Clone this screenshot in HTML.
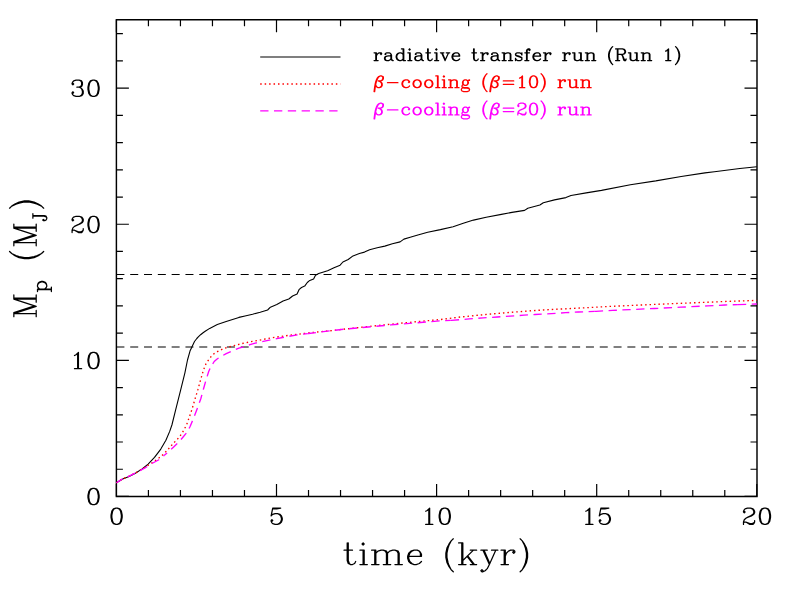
<!DOCTYPE html>
<html lang="en">
<head>
<meta charset="utf-8">
<title>Planet mass versus time</title>
<style>
html,body{margin:0;padding:0;background:#fff;}
body{width:789px;height:590px;overflow:hidden;font-family:"Liberation Serif",serif;}
svg{display:block;}
</style>
</head>
<body>
<svg width="789" height="590" viewBox="0 0 789 590" role="img" aria-label="Planet mass Mp (MJ) versus time (kyr) for radiative transfer and beta-cooling runs">
<rect width="789" height="590" fill="#fff"/>
<g fill="none" stroke="#000" stroke-width="1.35" stroke-linecap="butt" stroke-linejoin="round">
<path d="M116.4 19.7H757V496.4H116.4Z" stroke-width="1.45" stroke-linejoin="miter"/>
<path d="M116.4 496.4v-12.5M116.4 19.7v12.5M148.42 496.4v-6.5M148.42 19.7v6.5M180.44 496.4v-6.5M180.44 19.7v6.5M212.46 496.4v-6.5M212.46 19.7v6.5M244.48 496.4v-6.5M244.48 19.7v6.5M276.5 496.4v-12.5M276.5 19.7v12.5M308.52 496.4v-6.5M308.52 19.7v6.5M340.54 496.4v-6.5M340.54 19.7v6.5M372.56 496.4v-6.5M372.56 19.7v6.5M404.58 496.4v-6.5M404.58 19.7v6.5M436.6 496.4v-12.5M436.6 19.7v12.5M468.62 496.4v-6.5M468.62 19.7v6.5M500.64 496.4v-6.5M500.64 19.7v6.5M532.66 496.4v-6.5M532.66 19.7v6.5M564.68 496.4v-6.5M564.68 19.7v6.5M596.7 496.4v-12.5M596.7 19.7v12.5M628.72 496.4v-6.5M628.72 19.7v6.5M660.74 496.4v-6.5M660.74 19.7v6.5M692.76 496.4v-6.5M692.76 19.7v6.5M724.78 496.4v-6.5M724.78 19.7v6.5M756.8 496.4v-12.5M756.8 19.7v12.5M116.4 496.4h12.5M757 496.4h-12.5M116.4 469.23h6.5M757 469.23h-6.5M116.4 442.01h6.5M757 442.01h-6.5M116.4 414.79h6.5M757 414.79h-6.5M116.4 387.57h6.5M757 387.57h-6.5M116.4 360.35h12.5M757 360.35h-12.5M116.4 333.13h6.5M757 333.13h-6.5M116.4 305.91h6.5M757 305.91h-6.5M116.4 278.69h6.5M757 278.69h-6.5M116.4 251.47h6.5M757 251.47h-6.5M116.4 224.25h12.5M757 224.25h-12.5M116.4 197.03h6.5M757 197.03h-6.5M116.4 169.81h6.5M757 169.81h-6.5M116.4 142.59h6.5M757 142.59h-6.5M116.4 115.37h6.5M757 115.37h-6.5M116.4 88.15h12.5M757 88.15h-12.5M116.4 60.85h6.5M757 60.85h-6.5M116.4 33.6h6.5M757 33.6h-6.5" stroke-width="1.2"/>
<path d="M116.4 274.5H757" stroke-width="1.15" stroke-dasharray="8 5.81"/>
<path d="M116.4 347H757" stroke-width="1.15" stroke-dasharray="8 5.81"/>
<path d="M116.4 482.8L122.7 479L129.1 476.5L135.4 473.3L141.8 469.1L148.1 464.1L154.5 457.4L160.8 449.1L165.9 440.2L169.7 431.4L171.9 425L175.4 410.9L180.5 390.6L184.9 372.8L187.5 360L190 351.1L191.9 346.9L194.5 341.5L196.8 338.5L198.3 336.9L200.6 334.7L203.4 332.5L205.2 331.3L209.7 328.4L217.3 324.6L226.2 321.5L238.9 317.4L245 316L252.6 314.2L260.2 312.2L267.6 310L270.4 307.2L276.8 304.6L283.1 301.1L288.8 299L292.6 296L297.1 293.9L299 289.7L301.5 287.5L304.7 286.1L307.3 282.5L309.8 280.4L313.6 278.9L315.5 275.3L318.7 273.6L327.6 270.7L334 267.7L340.1 265.2L342.9 262L348.2 259.5L353 255.9L359.4 253.5L364.5 252.1L369.6 249.7L377.2 247.8L384.8 246.1L392.4 243.8L400.1 241.9L403.9 239.1L410.2 237.2L417 235.3L427.7 232.2L440.4 229.6L453.1 226.7L463.3 223.3L473.5 220.1L486.2 217.2L501.4 214.4L512 212.4L524.6 210.4L527.8 208.2L539.9 205L543.3 202.7L554.5 199.9L565.9 197.6L571 195.5L586.2 192.9L601.5 190.4L630.4 184.7L655.8 180.9L681.2 176.5L705 172.9L714.4 171.8L739.8 168.5L756.8 166.8" stroke-width="1.1"/>
<path d="M116.4 482.8L122.7 478.8L129.1 476.2L135.4 473L141.8 469.3L147.3 465.8L153 462.2L158.5 458.3L161.8 455.7L164.9 452.7L167.8 449.7L170.6 446.5L173.4 443.2L176.7 440L179.5 436.8L182.1 433.2L184.4 429L186.6 424.8L188.1 420.5L189.6 416.3L191.9 409.6L195.1 398.8L198 389.3L200.8 379.1L203.4 370.2L205.9 363.9L208.4 360.1L212.3 354.9L217.3 351.7L223.7 348.5L232.6 346L241.5 343.7L250 341.8L257.7 340.5L270.4 338L283.1 336.1L295.8 334.5L308.5 332.9L321.2 331.6L333.9 330.4L340 329.6L365.4 326.8L390.8 324.2L416.2 321.7L440 319.6L460.4 317L485.8 314.5L511.2 312.3L535 310.5L555.4 309.3L580.8 308L606.2 306.6L630 305.5L650.4 304.6L675.8 303.5L701.2 302.5L725 301.5L756.8 300.4" stroke="#ff0000" stroke-dasharray="1.5 2.95"/>
<path d="M116.4 482.8L122.7 478.8L129.1 476.2L135.4 473L141.8 469.7L145 468L151.5 463.7L158.5 460L163.6 455.9L164.1 455.47" stroke="#ff00ff" stroke-dasharray="8.3 5.51" stroke-dashoffset="1"/>
<path d="M164.1 455.47L168.8 451.4L173.4 447.2L178.6 442.3L182.7 437.5L187.4 431.8L190.2 426.2L193.3 418.9L197.6 407.7L200.8 398.8L203.4 389.3L205.9 380.4L208.7 371.5L210.9 366.6L214.2 361.5L216.8 359.2L219.3 357.5L226.2 353.6L232.6 350.8L238.9 348.2L245.3 346.3L250 344.6L255.2 343.1L276.8 338.6L295.8 335.1L307.7 333.6" stroke="#ff00ff" stroke-dasharray="8.3 5.51" stroke-dashoffset="4.38"/>
<path d="M307.7 333.6L308.5 333.5L321.2 331.9L345 329.1L390.8 324.9L440 320.9L450.8 320.43" stroke="#ff00ff" stroke-dasharray="8.3 5.51" stroke-dashoffset="0"/>
<path d="M450.8 320.43L451.5 320.4L469.3 318.9L483.3 317.9L497.3 317L510 316.1L524 315.2L535 314.5L551.6 313.6L565.6 312.7L578.3 312L594.8 311.35" stroke="#ff00ff" stroke-dasharray="8.3 5.51" stroke-dashoffset="0"/>
<path d="M594.8 311.35L596.1 311.3L612.6 310.4L630 309.6L654.2 308.5L680.9 307.2L707.6 305.9L725 305L737.9 304.59" stroke="#ff00ff" stroke-dasharray="8.3 5.51" stroke-dashoffset="0"/>
<path d="M737.9 304.59L756.8 304" stroke="#ff00ff" stroke-dasharray="8.3 5.51" stroke-dashoffset="0"/>
<path d="M260.2 56.95H340.5" stroke-width="1.1"/>
<path d="M260.2 84H340.5" stroke="#ff0000" stroke-dasharray="1.5 2.95"/>
<path d="M260.2 110.9H340.5" stroke="#ff00ff" stroke-dasharray="8.3 5.51"/>
</g>
<g fill="none" stroke="#000" stroke-width="1.25" stroke-linecap="round" stroke-linejoin="round">
<g><title>0</title><path d="M115.81 508.12L113.42 508.9L111.83 511.22L111.04 515.1L111.04 517.42L111.83 521.3L113.42 523.62L115.81 524.4L117.4 524.4L119.78 523.62L121.37 521.3L122.17 517.42L122.17 515.1L121.37 511.22L119.78 508.9L117.4 508.12L115.81 508.12M115.81 508.12L114.22 508.9L113.42 509.67L112.63 511.22L111.83 515.1L111.83 517.42L112.63 521.3L113.42 522.85L114.22 523.62L115.81 524.4M117.4 524.4L118.99 523.62L119.78 522.85L120.58 521.3L121.37 517.42L121.37 515.1L120.58 511.22L119.78 509.67L118.99 508.9L117.4 508.12"/></g>
<g><title>5</title><path d="M272.72 508.12L271.13 515.88M271.13 515.88L272.72 514.32L275.11 513.55L277.5 513.55L279.88 514.32L281.47 515.88L282.26 518.2L282.26 519.75L281.47 522.07L279.88 523.62L277.5 524.4L275.11 524.4L272.72 523.62L271.93 522.85L271.13 521.3L271.13 520.52L271.93 519.75L272.72 520.52L271.93 521.3M277.5 513.55L279.08 514.32L280.68 515.88L281.47 518.2L281.47 519.75L280.68 522.07L279.08 523.62L277.5 524.4M272.72 508.12L280.68 508.12M272.72 508.9L276.7 508.9L280.68 508.12"/></g>
<g><title>10</title><path d="M425.67 511.22L427.26 510.45L429.65 508.12L429.65 524.4M428.85 508.9L428.85 524.4M425.67 524.4L432.82 524.4M443.95 508.12L441.57 508.9L439.98 511.22L439.19 515.1L439.19 517.42L439.98 521.3L441.57 523.62L443.95 524.4L445.55 524.4L447.93 523.62L449.52 521.3L450.31 517.42L450.31 515.1L449.52 511.22L447.93 508.9L445.55 508.12L443.95 508.12M443.95 508.12L442.37 508.9L441.57 509.67L440.78 511.22L439.98 515.1L439.98 517.42L440.78 521.3L441.57 522.85L442.37 523.62L443.95 524.4M445.55 524.4L447.13 523.62L447.93 522.85L448.73 521.3L449.52 517.42L449.52 515.1L448.73 511.22L447.93 509.67L447.13 508.9L445.55 508.12"/></g>
<g><title>15</title><path d="M585.77 511.22L587.36 510.45L589.75 508.12L589.75 524.4M588.95 508.9L588.95 524.4M585.77 524.4L592.93 524.4M600.88 508.12L599.29 515.88M599.29 515.88L600.88 514.32L603.26 513.55L605.65 513.55L608.03 514.32L609.62 515.88L610.42 518.2L610.42 519.75L609.62 522.07L608.03 523.62L605.65 524.4L603.26 524.4L600.88 523.62L600.08 522.85L599.29 521.3L599.29 520.52L600.08 519.75L600.88 520.52L600.08 521.3M605.65 513.55L607.24 514.32L608.83 515.88L609.62 518.2L609.62 519.75L608.83 522.07L607.24 523.62L605.65 524.4M600.88 508.12L608.83 508.12M600.88 508.9L604.85 508.9L608.83 508.12"/></g>
<g><title>20</title><path d="M744.28 511.22L745.08 512L744.28 512.77L743.49 512L743.49 511.22L744.28 509.67L745.08 508.9L747.46 508.12L750.64 508.12L753.03 508.9L753.82 509.67L754.62 511.22L754.62 512.77L753.82 514.32L751.44 515.88L747.46 517.42L745.87 518.2L744.28 519.75L743.49 522.07L743.49 524.4M750.64 508.12L752.23 508.9L753.03 509.67L753.82 511.22L753.82 512.77L753.03 514.32L750.64 515.88L747.46 517.42M743.49 522.85L744.28 522.07L745.87 522.07L749.85 523.62L752.23 523.62L753.82 522.85L754.62 522.07M745.87 522.07L749.85 524.4L753.03 524.4L753.82 523.62L754.62 522.07L754.62 520.52M764.16 508.12L761.77 508.9L760.18 511.22L759.39 515.1L759.39 517.42L760.18 521.3L761.77 523.62L764.16 524.4L765.75 524.4L768.13 523.62L769.72 521.3L770.52 517.42L770.52 515.1L769.72 511.22L768.13 508.9L765.75 508.12L764.16 508.12M764.16 508.12L762.57 508.9L761.77 509.67L760.98 511.22L760.18 515.1L760.18 517.42L760.98 521.3L761.77 522.85L762.57 523.62L764.16 524.4M765.75 524.4L767.34 523.62L768.13 522.85L768.93 521.3L769.72 517.42L769.72 515.1L768.93 511.22L768.13 509.67L767.34 508.9L765.75 508.12"/></g>
<g><title>0</title><path d="M92.75 488.43L90.37 489.2L88.78 491.52L87.98 495.4L87.98 497.72L88.78 501.6L90.37 503.93L92.75 504.7L94.34 504.7L96.73 503.93L98.32 501.6L99.11 497.72L99.11 495.4L98.32 491.52L96.73 489.2L94.34 488.43L92.75 488.43M92.75 488.43L91.16 489.2L90.37 489.97L89.58 491.52L88.78 495.4L88.78 497.72L89.58 501.6L90.37 503.15L91.16 503.93L92.75 504.7M94.34 504.7L95.94 503.93L96.73 503.15L97.53 501.6L98.32 497.72L98.32 495.4L97.53 491.52L96.73 489.97L95.94 489.2L94.34 488.43"/></g>
<g><title>10</title><path d="M74.47 355.48L76.06 354.7L78.44 352.38L78.44 368.65M77.65 353.15L77.65 368.65M74.47 368.65L81.62 368.65M92.75 352.38L90.37 353.15L88.78 355.48L87.98 359.35L87.98 361.68L88.78 365.55L90.37 367.88L92.75 368.65L94.34 368.65L96.73 367.88L98.32 365.55L99.11 361.68L99.11 359.35L98.32 355.48L96.73 353.15L94.34 352.38L92.75 352.38M92.75 352.38L91.16 353.15L90.37 353.93L89.58 355.48L88.78 359.35L88.78 361.68L89.58 365.55L90.37 367.1L91.16 367.88L92.75 368.65M94.34 368.65L95.94 367.88L96.73 367.1L97.53 365.55L98.32 361.68L98.32 359.35L97.53 355.48L96.73 353.93L95.94 353.15L94.34 352.38"/></g>
<g><title>20</title><path d="M72.88 219.38L73.67 220.15L72.88 220.93L72.08 220.15L72.08 219.38L72.88 217.83L73.67 217.05L76.06 216.28L79.24 216.28L81.62 217.05L82.42 217.83L83.22 219.38L83.22 220.93L82.42 222.48L80.03 224.03L76.06 225.58L74.47 226.35L72.88 227.9L72.08 230.23L72.08 232.55M79.24 216.28L80.83 217.05L81.62 217.83L82.42 219.38L82.42 220.93L81.62 222.48L79.24 224.03L76.06 225.58M72.08 231L72.88 230.23L74.47 230.23L78.44 231.78L80.83 231.78L82.42 231L83.22 230.23M74.47 230.23L78.44 232.55L81.62 232.55L82.42 231.78L83.22 230.23L83.22 228.68M92.75 216.28L90.37 217.05L88.78 219.38L87.98 223.25L87.98 225.58L88.78 229.45L90.37 231.78L92.75 232.55L94.34 232.55L96.73 231.78L98.32 229.45L99.11 225.58L99.11 223.25L98.32 219.38L96.73 217.05L94.34 216.28L92.75 216.28M92.75 216.28L91.16 217.05L90.37 217.83L89.58 219.38L88.78 223.25L88.78 225.58L89.58 229.45L90.37 231L91.16 231.78L92.75 232.55M94.34 232.55L95.94 231.78L96.73 231L97.53 229.45L98.32 225.58L98.32 223.25L97.53 219.38L96.73 217.83L95.94 217.05L94.34 216.28"/></g>
<g><title>30</title><path d="M72.88 83.28L73.67 84.05L72.88 84.83L72.08 84.05L72.08 83.28L72.88 81.73L73.67 80.95L76.06 80.18L79.24 80.18L81.62 80.95L82.42 82.5L82.42 84.83L81.62 86.38L79.24 87.15L76.86 87.15M79.24 80.18L80.83 80.95L81.62 82.5L81.62 84.83L80.83 86.38L79.24 87.15M79.24 87.15L80.83 87.93L82.42 89.48L83.22 91.03L83.22 93.35L82.42 94.9L81.62 95.68L79.24 96.45L76.06 96.45L73.67 95.68L72.88 94.9L72.08 93.35L72.08 92.58L72.88 91.8L73.67 92.58L72.88 93.35M81.62 88.7L82.42 91.03L82.42 93.35L81.62 94.9L80.83 95.68L79.24 96.45M92.75 80.18L90.37 80.95L88.78 83.28L87.98 87.15L87.98 89.48L88.78 93.35L90.37 95.68L92.75 96.45L94.34 96.45L96.73 95.68L98.32 93.35L99.11 89.48L99.11 87.15L98.32 83.28L96.73 80.95L94.34 80.18L92.75 80.18M92.75 80.18L91.16 80.95L90.37 81.73L89.58 83.28L88.78 87.15L88.78 89.48L89.58 93.35L90.37 94.9L91.16 95.68L92.75 96.45M94.34 96.45L95.94 95.68L96.73 94.9L97.53 93.35L98.32 89.48L98.32 87.15L97.53 83.28L96.73 81.73L95.94 80.95L94.34 80.18"/></g>
<g><title>time (kyr)</title><path d="M347.2 542.92L347.2 560.43L348.26 563.52L350.38 564.55L352.5 564.55L354.62 563.52L355.68 561.46M348.26 542.92L348.26 560.43L349.32 563.52L350.38 564.55M344.01 550.13L352.5 550.13M363.11 542.92L362.05 543.95L363.11 544.98L364.17 543.95L363.11 542.92M363.11 550.13L363.11 564.55M364.17 550.13L364.17 564.55M359.93 550.13L364.17 550.13M359.93 564.55L367.35 564.55M374.78 550.13L374.78 564.55M375.84 550.13L375.84 564.55M375.84 553.22L377.96 551.16L381.15 550.13L383.27 550.13L386.45 551.16L387.51 553.22L387.51 564.55M383.27 550.13L385.39 551.16L386.45 553.22L386.45 564.55M387.51 553.22L389.64 551.16L392.82 550.13L394.94 550.13L398.12 551.16L399.18 553.22L399.18 564.55M394.94 550.13L397.06 551.16L398.12 553.22L398.12 564.55M371.6 550.13L375.84 550.13M371.6 564.55L379.03 564.55M383.27 564.55L390.7 564.55M394.94 564.55L402.37 564.55M408.73 556.31L421.47 556.31L421.47 554.25L420.4 552.19L419.34 551.16L417.22 550.13L414.04 550.13L410.86 551.16L408.73 553.22L407.67 556.31L407.67 558.37L408.73 561.46L410.86 563.52L414.04 564.55L416.16 564.55L419.34 563.52L421.47 561.46M420.4 556.31L420.4 553.22L419.34 551.16M414.04 550.13L411.92 551.16L409.79 553.22L408.73 556.31L408.73 558.37L409.79 561.46L411.92 563.52L414.04 564.55M453.3 538.8L451.17 540.86L449.05 543.95L446.93 548.07L445.87 553.22L445.87 557.34L446.93 562.49L449.05 566.61L451.17 569.7L453.3 571.76M451.17 540.86L449.05 544.98L447.99 548.07L446.93 553.22L446.93 557.34L447.99 562.49L449.05 565.58L451.17 569.7M461.78 542.92L461.78 564.55M462.84 542.92L462.84 564.55M473.45 550.13L462.84 560.43M468.15 556.31L474.52 564.55M467.09 556.31L473.45 564.55M458.6 542.92L462.84 542.92M470.27 550.13L476.64 550.13M458.6 564.55L466.03 564.55M470.27 564.55L476.64 564.55M483 550.13L489.37 564.55M484.06 550.13L489.37 562.49M495.74 550.13L489.37 564.55L487.25 568.67L485.13 570.73L483 571.76L481.94 571.76L480.88 570.73L481.94 569.7L483 570.73M480.88 550.13L487.25 550.13M491.49 550.13L497.86 550.13M504.22 550.13L504.22 564.55M505.28 550.13L505.28 564.55M505.28 556.31L506.35 553.22L508.47 551.16L510.59 550.13L513.77 550.13L514.83 551.16L514.83 552.19L513.77 553.22L512.71 552.19L513.77 551.16M501.04 550.13L505.28 550.13M501.04 564.55L508.47 564.55M520.14 538.8L522.26 540.86L524.38 543.95L526.5 548.07L527.57 553.22L527.57 557.34L526.5 562.49L524.38 566.61L522.26 569.7L520.14 571.76M522.26 540.86L524.38 544.98L525.44 548.07L526.5 553.22L526.5 557.34L525.44 562.49L524.38 565.58L522.26 569.7"/></g>
<g><title>Mp (MJ)</title><path d="M13.84 313.6L36.2 313.6M13.84 312.56L33.01 306.35M13.84 313.6L36.2 306.35M13.84 299.11L36.2 306.35M13.84 299.11L36.2 299.11M13.84 298.07L36.2 298.07M13.84 316.7L13.84 312.56M13.84 299.11L13.84 294.97M36.2 316.7L36.2 310.49M36.2 302.21L36.2 294.97M37.5 289.69L51.37 289.69M37.5 289.05L51.37 289.05M39.48 289.05L38.16 287.76L37.5 286.48L37.5 285.2L38.16 283.27L39.48 281.99L41.46 281.35L42.78 281.35L44.76 281.99L46.08 283.27L46.74 285.2L46.74 286.48L46.08 287.76L44.76 289.05M37.5 285.2L38.16 283.91L39.48 282.63L41.46 281.99L42.78 281.99L44.76 282.63L46.08 283.91L46.74 285.2M37.5 291.61L37.5 289.05M51.37 291.61L51.37 287.12M9.58 251.48L11.71 253.55L14.9 255.62L19.16 257.69L24.49 258.72L28.75 258.72L34.07 257.69L38.33 255.62L41.53 253.55L43.66 251.48M11.71 253.55L15.97 255.62L19.16 256.65L24.49 257.69L28.75 257.69L34.07 256.65L37.27 255.62L41.53 253.55M13.84 242.68L36.2 242.68M13.84 241.64L33.01 235.43M13.84 242.68L36.2 235.43M13.84 228.19L36.2 235.43M13.84 228.19L36.2 228.19M13.84 227.15L36.2 227.15M13.84 245.78L13.84 241.64M13.84 228.19L13.84 224.05M36.2 245.78L36.2 239.57M36.2 231.29L36.2 224.05M32.88 215.56L44.1 215.56L46.08 216.2L46.74 217.49L46.74 218.77L46.08 220.05L44.76 220.7L43.44 220.7L42.78 220.05L43.44 219.41L44.1 220.05M32.88 216.2L44.1 216.2L46.08 216.85L46.74 217.49M32.88 218.13L32.88 213.64M9.58 208.21L11.71 206.14L14.9 204.07L19.16 202L24.49 200.97L28.75 200.97L34.07 202L38.33 204.07L41.53 206.14L43.66 208.21M11.71 206.14L15.97 204.07L19.16 203.04L24.49 202L28.75 202L34.07 203.04L37.27 204.07L41.53 206.14"/></g>
<g><title>radiative transfer run (Run 1)</title><path d="M375.81 52.8L375.81 60.6M376.39 52.8L376.39 60.6M376.39 56.14L376.97 54.47L378.14 53.36L379.3 52.8L381.05 52.8L381.63 53.36L381.63 53.92L381.05 54.47L380.47 53.92L381.05 53.36M374.06 52.8L376.39 52.8M374.06 60.6L378.14 60.6M385.7 53.92L385.7 54.47L385.12 54.47L385.12 53.92L385.7 53.36L386.87 52.8L389.2 52.8L390.36 53.36L390.94 53.92L391.52 55.03L391.52 58.93L392.11 60.04L392.69 60.6M390.94 53.92L390.94 58.93L391.52 60.04L392.69 60.6L393.27 60.6M390.94 55.03L390.36 55.59L386.87 56.14L385.12 56.7L384.54 57.81L384.54 58.93L385.12 60.04L386.87 60.6L388.61 60.6L389.78 60.04L390.94 58.93M386.87 56.14L385.7 56.7L385.12 57.81L385.12 58.93L385.7 60.04L386.87 60.6M403.16 48.9L403.16 60.6M403.75 48.9L403.75 60.6M403.16 54.47L402 53.36L400.84 52.8L399.67 52.8L397.93 53.36L396.76 54.47L396.18 56.14L396.18 57.26L396.76 58.93L397.93 60.04L399.67 60.6L400.84 60.6L402 60.04L403.16 58.93M399.67 52.8L398.51 53.36L397.34 54.47L396.76 56.14L396.76 57.26L397.34 58.93L398.51 60.04L399.67 60.6M401.42 48.9L403.75 48.9M403.16 60.6L405.49 60.6M409.57 48.9L408.98 49.46L409.57 50.02L410.15 49.46L409.57 48.9M409.57 52.8L409.57 60.6M410.15 52.8L410.15 60.6M407.82 52.8L410.15 52.8M407.82 60.6L411.89 60.6M415.97 53.92L415.97 54.47L415.39 54.47L415.39 53.92L415.97 53.36L417.13 52.8L419.46 52.8L420.62 53.36L421.21 53.92L421.79 55.03L421.79 58.93L422.37 60.04L422.95 60.6M421.21 53.92L421.21 58.93L421.79 60.04L422.95 60.6L423.53 60.6M421.21 55.03L420.62 55.59L417.13 56.14L415.39 56.7L414.8 57.81L414.8 58.93L415.39 60.04L417.13 60.6L418.88 60.6L420.04 60.04L421.21 58.93M417.13 56.14L415.97 56.7L415.39 57.81L415.39 58.93L415.97 60.04L417.13 60.6M427.61 48.9L427.61 58.37L428.19 60.04L429.35 60.6L430.52 60.6L431.68 60.04L432.26 58.93M428.19 48.9L428.19 58.37L428.77 60.04L429.35 60.6M425.86 52.8L430.52 52.8M436.34 48.9L435.76 49.46L436.34 50.02L436.92 49.46L436.34 48.9M436.34 52.8L436.34 60.6M436.92 52.8L436.92 60.6M434.59 52.8L436.92 52.8M434.59 60.6L438.67 60.6M441.58 52.8L445.07 60.6M442.16 52.8L445.07 59.49M448.56 52.8L445.07 60.6M440.41 52.8L443.9 52.8M446.23 52.8L449.72 52.8M452.63 56.14L459.62 56.14L459.62 55.03L459.04 53.92L458.45 53.36L457.29 52.8L455.54 52.8L453.8 53.36L452.63 54.47L452.05 56.14L452.05 57.26L452.63 58.93L453.8 60.04L455.54 60.6L456.71 60.6L458.45 60.04L459.62 58.93M459.04 56.14L459.04 54.47L458.45 53.36M455.54 52.8L454.38 53.36L453.22 54.47L452.63 56.14L452.63 57.26L453.22 58.93L454.38 60.04L455.54 60.6M473.59 48.9L473.59 58.37L474.17 60.04L475.33 60.6L476.5 60.6L477.66 60.04L478.24 58.93M474.17 48.9L474.17 58.37L474.75 60.04L475.33 60.6M471.84 52.8L476.5 52.8M482.32 52.8L482.32 60.6M482.9 52.8L482.9 60.6M482.9 56.14L483.48 54.47L484.64 53.36L485.81 52.8L487.55 52.8L488.14 53.36L488.14 53.92L487.55 54.47L486.97 53.92L487.55 53.36M480.57 52.8L482.9 52.8M480.57 60.6L484.64 60.6M492.21 53.92L492.21 54.47L491.63 54.47L491.63 53.92L492.21 53.36L493.37 52.8L495.7 52.8L496.87 53.36L497.45 53.92L498.03 55.03L498.03 58.93L498.61 60.04L499.19 60.6M497.45 53.92L497.45 58.93L498.03 60.04L499.19 60.6L499.78 60.6M497.45 55.03L496.87 55.59L493.37 56.14L491.63 56.7L491.05 57.81L491.05 58.93L491.63 60.04L493.37 60.6L495.12 60.6L496.28 60.04L497.45 58.93M493.37 56.14L492.21 56.7L491.63 57.81L491.63 58.93L492.21 60.04L493.37 60.6M503.85 52.8L503.85 60.6M504.43 52.8L504.43 60.6M504.43 54.47L505.6 53.36L507.34 52.8L508.51 52.8L510.25 53.36L510.83 54.47L510.83 60.6M508.51 52.8L509.67 53.36L510.25 54.47L510.25 60.6M502.1 52.8L504.43 52.8M502.1 60.6L506.18 60.6M508.51 60.6L512.58 60.6M521.31 53.92L521.89 52.8L521.89 55.03L521.31 53.92L520.73 53.36L519.56 52.8L517.24 52.8L516.07 53.36L515.49 53.92L515.49 55.03L516.07 55.59L517.24 56.14L520.15 57.26L521.31 57.81L521.89 58.37M515.49 54.47L516.07 55.03L517.24 55.59L520.15 56.7L521.31 57.26L521.89 57.81L521.89 59.49L521.31 60.04L520.15 60.6L517.82 60.6L516.65 60.04L516.07 59.49L515.49 58.37L515.49 60.6L516.07 59.49M529.46 49.46L528.88 50.02L529.46 50.57L530.04 50.02L530.04 49.46L529.46 48.9L528.29 48.9L527.13 49.46L526.55 50.57L526.55 60.6M528.29 48.9L527.71 49.46L527.13 50.57L527.13 60.6M524.8 52.8L529.46 52.8M524.8 60.6L528.88 60.6M533.53 56.14L540.52 56.14L540.52 55.03L539.93 53.92L539.35 53.36L538.19 52.8L536.44 52.8L534.7 53.36L533.53 54.47L532.95 56.14L532.95 57.26L533.53 58.93L534.7 60.04L536.44 60.6L537.61 60.6L539.35 60.04L540.52 58.93M539.93 56.14L539.93 54.47L539.35 53.36M536.44 52.8L535.28 53.36L534.11 54.47L533.53 56.14L533.53 57.26L534.11 58.93L535.28 60.04L536.44 60.6M545.17 52.8L545.17 60.6M545.75 52.8L545.75 60.6M545.75 56.14L546.34 54.47L547.5 53.36L548.66 52.8L550.41 52.8L550.99 53.36L550.99 53.92L550.41 54.47L549.83 53.92L550.41 53.36M543.43 52.8L545.75 52.8M543.43 60.6L547.5 60.6M564.38 52.8L564.38 60.6M564.96 52.8L564.96 60.6M564.96 56.14L565.54 54.47L566.71 53.36L567.87 52.8L569.62 52.8L570.2 53.36L570.2 53.92L569.62 54.47L569.03 53.92L569.62 53.36M562.63 52.8L564.96 52.8M562.63 60.6L566.71 60.6M574.27 52.8L574.27 58.93L574.85 60.04L576.6 60.6L577.76 60.6L579.51 60.04L580.67 58.93M574.85 52.8L574.85 58.93L575.44 60.04L576.6 60.6M580.67 52.8L580.67 60.6M581.26 52.8L581.26 60.6M572.53 52.8L574.85 52.8M578.93 52.8L581.26 52.8M580.67 60.6L583 60.6M587.08 52.8L587.08 60.6M587.66 52.8L587.66 60.6M587.66 54.47L588.82 53.36L590.57 52.8L591.73 52.8L593.48 53.36L594.06 54.47L594.06 60.6M591.73 52.8L592.9 53.36L593.48 54.47L593.48 60.6M585.33 52.8L587.66 52.8M585.33 60.6L589.4 60.6M591.73 60.6L595.81 60.6M612.68 46.67L611.52 47.79L610.36 49.46L609.19 51.69L608.61 54.47L608.61 56.7L609.19 59.49L610.36 61.71L611.52 63.39L612.68 64.5M611.52 47.79L610.36 50.02L609.77 51.69L609.19 54.47L609.19 56.7L609.77 59.49L610.36 61.16L611.52 63.39M617.34 48.9L617.34 60.6M617.92 48.9L617.92 60.6M615.59 48.9L622.58 48.9L624.32 49.46L624.91 50.02L625.49 51.13L625.49 52.25L624.91 53.36L624.32 53.92L622.58 54.47L617.92 54.47M622.58 48.9L623.74 49.46L624.32 50.02L624.91 51.13L624.91 52.25L624.32 53.36L623.74 53.92L622.58 54.47M615.59 60.6L619.67 60.6M620.83 54.47L622 55.03L622.58 55.59L624.32 59.49L624.91 60.04L625.49 60.04L626.07 59.49M622 55.03L622.58 56.14L623.74 60.04L624.32 60.6L625.49 60.6L626.07 59.49L626.07 58.93M630.14 52.8L630.14 58.93L630.73 60.04L632.47 60.6L633.64 60.6L635.38 60.04L636.55 58.93M630.73 52.8L630.73 58.93L631.31 60.04L632.47 60.6M636.55 52.8L636.55 60.6M637.13 52.8L637.13 60.6M628.4 52.8L630.73 52.8M634.8 52.8L637.13 52.8M636.55 60.6L638.87 60.6M642.95 52.8L642.95 60.6M643.53 52.8L643.53 60.6M643.53 54.47L644.69 53.36L646.44 52.8L647.6 52.8L649.35 53.36L649.93 54.47L649.93 60.6M647.6 52.8L648.77 53.36L649.35 54.47L649.35 60.6M641.2 52.8L643.53 52.8M641.2 60.6L645.28 60.6M647.6 60.6L651.68 60.6M665.65 51.13L666.81 50.57L668.56 48.9L668.56 60.6M667.97 49.46L667.97 60.6M665.65 60.6L670.88 60.6M675.54 46.67L676.7 47.79L677.87 49.46L679.03 51.69L679.61 54.47L679.61 56.7L679.03 59.49L677.87 61.71L676.7 63.39L675.54 64.5M676.7 47.79L677.87 50.02L678.45 51.69L679.03 54.47L679.03 56.7L678.45 59.49L677.87 61.16L676.7 63.39"/></g>
<g stroke="#ff0000"><title>β−cooling (β=10) run</title><path d="M380.47 75.95L378.72 76.51L377.56 77.62L376.39 79.85L375.81 81.52L375.23 83.75L374.65 87.09L374.06 91.55M380.47 75.95L379.3 76.51L378.14 77.62L376.97 79.85L376.39 81.52L375.81 83.75L375.23 87.09L374.65 91.55M380.47 75.95L381.63 75.95L382.79 76.51L383.38 77.07L383.38 78.74L382.79 79.85L382.21 80.41L380.47 80.97L378.14 80.97M381.63 75.95L382.79 77.07L382.79 78.74L382.21 79.85L381.63 80.41L380.47 80.97M378.14 80.97L380.47 81.52L381.63 82.64L382.21 83.75L382.21 85.42L381.63 86.54L381.05 87.09L379.3 87.65L378.14 87.65L376.97 87.09L376.39 86.54L375.81 84.87M378.14 80.97L379.88 81.52L381.05 82.64L381.63 83.75L381.63 85.42L381.05 86.54L380.47 87.09L379.3 87.65M387.45 82.64L397.93 82.64M408.98 81.52L408.4 82.08L408.98 82.64L409.57 82.08L409.57 81.52L408.4 80.41L407.24 79.85L405.49 79.85L403.75 80.41L402.58 81.52L402 83.19L402 84.31L402.58 85.98L403.75 87.09L405.49 87.65L406.66 87.65L408.4 87.09L409.57 85.98M405.49 79.85L404.33 80.41L403.16 81.52L402.58 83.19L402.58 84.31L403.16 85.98L404.33 87.09L405.49 87.65M416.55 79.85L414.8 80.41L413.64 81.52L413.06 83.19L413.06 84.31L413.64 85.98L414.8 87.09L416.55 87.65L417.71 87.65L419.46 87.09L420.62 85.98L421.21 84.31L421.21 83.19L420.62 81.52L419.46 80.41L417.71 79.85L416.55 79.85M416.55 79.85L415.39 80.41L414.22 81.52L413.64 83.19L413.64 84.31L414.22 85.98L415.39 87.09L416.55 87.65M417.71 87.65L418.88 87.09L420.04 85.98L420.62 84.31L420.62 83.19L420.04 81.52L418.88 80.41L417.71 79.85M428.19 79.85L426.44 80.41L425.28 81.52L424.7 83.19L424.7 84.31L425.28 85.98L426.44 87.09L428.19 87.65L429.35 87.65L431.1 87.09L432.26 85.98L432.85 84.31L432.85 83.19L432.26 81.52L431.1 80.41L429.35 79.85L428.19 79.85M428.19 79.85L427.03 80.41L425.86 81.52L425.28 83.19L425.28 84.31L425.86 85.98L427.03 87.09L428.19 87.65M429.35 87.65L430.52 87.09L431.68 85.98L432.26 84.31L432.26 83.19L431.68 81.52L430.52 80.41L429.35 79.85M437.5 75.95L437.5 87.65M438.08 75.95L438.08 87.65M435.76 75.95L438.08 75.95M435.76 87.65L439.83 87.65M443.9 75.95L443.32 76.51L443.9 77.07L444.49 76.51L443.9 75.95M443.9 79.85L443.9 87.65M444.49 79.85L444.49 87.65M442.16 79.85L444.49 79.85M442.16 87.65L446.23 87.65M450.31 79.85L450.31 87.65M450.89 79.85L450.89 87.65M450.89 81.52L452.05 80.41L453.8 79.85L454.96 79.85L456.71 80.41L457.29 81.52L457.29 87.65M454.96 79.85L456.13 80.41L456.71 81.52L456.71 87.65M448.56 79.85L450.89 79.85M448.56 87.65L452.63 87.65M454.96 87.65L459.04 87.65M464.86 79.85L463.69 80.41L463.11 80.97L462.53 82.08L462.53 83.19L463.11 84.31L463.69 84.87L464.86 85.42L466.02 85.42L467.18 84.87L467.77 84.31L468.35 83.19L468.35 82.08L467.77 80.97L467.18 80.41L466.02 79.85L464.86 79.85M463.69 80.41L463.11 81.52L463.11 83.75L463.69 84.87M467.18 84.87L467.77 83.75L467.77 81.52L467.18 80.41M467.77 80.97L468.35 80.41L469.51 79.85L469.51 80.41L468.35 80.41M463.11 84.31L462.53 84.87L461.95 85.98L461.95 86.54L462.53 87.65L464.27 88.21L467.18 88.21L468.93 88.76L469.51 89.32M461.95 86.54L462.53 87.09L464.27 87.65L467.18 87.65L468.93 88.21L469.51 89.32L469.51 89.88L468.93 90.99L467.18 91.55L463.69 91.55L461.95 90.99L461.36 89.88L461.36 89.32L461.95 88.21L463.69 87.65M486.97 73.73L485.81 74.84L484.64 76.51L483.48 78.74L482.9 81.52L482.9 83.75L483.48 86.54L484.64 88.76L485.81 90.44L486.97 91.55M485.81 74.84L484.64 77.07L484.06 78.74L483.48 81.52L483.48 83.75L484.06 86.54L484.64 88.21L485.81 90.44M496.28 75.95L494.54 76.51L493.37 77.62L492.21 79.85L491.63 81.52L491.05 83.75L490.46 87.09L489.88 91.55M496.28 75.95L495.12 76.51L493.96 77.62L492.79 79.85L492.21 81.52L491.63 83.75L491.05 87.09L490.46 91.55M496.28 75.95L497.45 75.95L498.61 76.51L499.19 77.07L499.19 78.74L498.61 79.85L498.03 80.41L496.28 80.97L493.96 80.97M497.45 75.95L498.61 77.07L498.61 78.74L498.03 79.85L497.45 80.41L496.28 80.97M493.96 80.97L496.28 81.52L497.45 82.64L498.03 83.75L498.03 85.42L497.45 86.54L496.87 87.09L495.12 87.65L493.96 87.65L492.79 87.09L492.21 86.54L491.63 84.87M493.96 80.97L495.7 81.52L496.87 82.64L497.45 83.75L497.45 85.42L496.87 86.54L496.28 87.09L495.12 87.65M503.27 80.97L513.74 80.97M503.27 84.31L513.74 84.31M519.56 78.18L520.73 77.62L522.47 75.95L522.47 87.65M521.89 76.51L521.89 87.65M519.56 87.65L524.8 87.65M532.95 75.95L531.2 76.51L530.04 78.18L529.46 80.97L529.46 82.64L530.04 85.42L531.2 87.09L532.95 87.65L534.11 87.65L535.86 87.09L537.02 85.42L537.61 82.64L537.61 80.97L537.02 78.18L535.86 76.51L534.11 75.95L532.95 75.95M532.95 75.95L531.79 76.51L531.2 77.07L530.62 78.18L530.04 80.97L530.04 82.64L530.62 85.42L531.2 86.54L531.79 87.09L532.95 87.65M534.11 87.65L535.28 87.09L535.86 86.54L536.44 85.42L537.02 82.64L537.02 80.97L536.44 78.18L535.86 77.07L535.28 76.51L534.11 75.95M541.1 73.73L542.26 74.84L543.43 76.51L544.59 78.74L545.17 81.52L545.17 83.75L544.59 86.54L543.43 88.76L542.26 90.44L541.1 91.55M542.26 74.84L543.43 77.07L544.01 78.74L544.59 81.52L544.59 83.75L544.01 86.54L543.43 88.21L542.26 90.44M559.72 79.85L559.72 87.65M560.3 79.85L560.3 87.65M560.3 83.19L560.89 81.52L562.05 80.41L563.21 79.85L564.96 79.85L565.54 80.41L565.54 80.97L564.96 81.52L564.38 80.97L564.96 80.41M557.98 79.85L560.3 79.85M557.98 87.65L562.05 87.65M569.62 79.85L569.62 85.98L570.2 87.09L571.94 87.65L573.11 87.65L574.85 87.09L576.02 85.98M570.2 79.85L570.2 85.98L570.78 87.09L571.94 87.65M576.02 79.85L576.02 87.65M576.6 79.85L576.6 87.65M567.87 79.85L570.2 79.85M574.27 79.85L576.6 79.85M576.02 87.65L578.35 87.65M582.42 79.85L582.42 87.65M583 79.85L583 87.65M583 81.52L584.17 80.41L585.91 79.85L587.08 79.85L588.82 80.41L589.4 81.52L589.4 87.65M587.08 79.85L588.24 80.41L588.82 81.52L588.82 87.65M580.67 79.85L583 79.85M580.67 87.65L584.75 87.65M587.08 87.65L591.15 87.65"/></g>
<g stroke="#ff00ff"><title>β−cooling (β=20) run</title><path d="M380.47 103.2L378.72 103.76L377.56 104.87L376.39 107.1L375.81 108.77L375.23 111L374.65 114.34L374.06 118.8M380.47 103.2L379.3 103.76L378.14 104.87L376.97 107.1L376.39 108.77L375.81 111L375.23 114.34L374.65 118.8M380.47 103.2L381.63 103.2L382.79 103.76L383.38 104.32L383.38 105.99L382.79 107.1L382.21 107.66L380.47 108.22L378.14 108.22M381.63 103.2L382.79 104.32L382.79 105.99L382.21 107.1L381.63 107.66L380.47 108.22M378.14 108.22L380.47 108.77L381.63 109.89L382.21 111L382.21 112.67L381.63 113.79L381.05 114.34L379.3 114.9L378.14 114.9L376.97 114.34L376.39 113.79L375.81 112.12M378.14 108.22L379.88 108.77L381.05 109.89L381.63 111L381.63 112.67L381.05 113.79L380.47 114.34L379.3 114.9M387.45 109.89L397.93 109.89M408.98 108.77L408.4 109.33L408.98 109.89L409.57 109.33L409.57 108.77L408.4 107.66L407.24 107.1L405.49 107.1L403.75 107.66L402.58 108.77L402 110.44L402 111.56L402.58 113.23L403.75 114.34L405.49 114.9L406.66 114.9L408.4 114.34L409.57 113.23M405.49 107.1L404.33 107.66L403.16 108.77L402.58 110.44L402.58 111.56L403.16 113.23L404.33 114.34L405.49 114.9M416.55 107.1L414.8 107.66L413.64 108.77L413.06 110.44L413.06 111.56L413.64 113.23L414.8 114.34L416.55 114.9L417.71 114.9L419.46 114.34L420.62 113.23L421.21 111.56L421.21 110.44L420.62 108.77L419.46 107.66L417.71 107.1L416.55 107.1M416.55 107.1L415.39 107.66L414.22 108.77L413.64 110.44L413.64 111.56L414.22 113.23L415.39 114.34L416.55 114.9M417.71 114.9L418.88 114.34L420.04 113.23L420.62 111.56L420.62 110.44L420.04 108.77L418.88 107.66L417.71 107.1M428.19 107.1L426.44 107.66L425.28 108.77L424.7 110.44L424.7 111.56L425.28 113.23L426.44 114.34L428.19 114.9L429.35 114.9L431.1 114.34L432.26 113.23L432.85 111.56L432.85 110.44L432.26 108.77L431.1 107.66L429.35 107.1L428.19 107.1M428.19 107.1L427.03 107.66L425.86 108.77L425.28 110.44L425.28 111.56L425.86 113.23L427.03 114.34L428.19 114.9M429.35 114.9L430.52 114.34L431.68 113.23L432.26 111.56L432.26 110.44L431.68 108.77L430.52 107.66L429.35 107.1M437.5 103.2L437.5 114.9M438.08 103.2L438.08 114.9M435.76 103.2L438.08 103.2M435.76 114.9L439.83 114.9M443.9 103.2L443.32 103.76L443.9 104.32L444.49 103.76L443.9 103.2M443.9 107.1L443.9 114.9M444.49 107.1L444.49 114.9M442.16 107.1L444.49 107.1M442.16 114.9L446.23 114.9M450.31 107.1L450.31 114.9M450.89 107.1L450.89 114.9M450.89 108.77L452.05 107.66L453.8 107.1L454.96 107.1L456.71 107.66L457.29 108.77L457.29 114.9M454.96 107.1L456.13 107.66L456.71 108.77L456.71 114.9M448.56 107.1L450.89 107.1M448.56 114.9L452.63 114.9M454.96 114.9L459.04 114.9M464.86 107.1L463.69 107.66L463.11 108.22L462.53 109.33L462.53 110.44L463.11 111.56L463.69 112.12L464.86 112.67L466.02 112.67L467.18 112.12L467.77 111.56L468.35 110.44L468.35 109.33L467.77 108.22L467.18 107.66L466.02 107.1L464.86 107.1M463.69 107.66L463.11 108.77L463.11 111L463.69 112.12M467.18 112.12L467.77 111L467.77 108.77L467.18 107.66M467.77 108.22L468.35 107.66L469.51 107.1L469.51 107.66L468.35 107.66M463.11 111.56L462.53 112.12L461.95 113.23L461.95 113.79L462.53 114.9L464.27 115.46L467.18 115.46L468.93 116.01L469.51 116.57M461.95 113.79L462.53 114.34L464.27 114.9L467.18 114.9L468.93 115.46L469.51 116.57L469.51 117.13L468.93 118.24L467.18 118.8L463.69 118.8L461.95 118.24L461.36 117.13L461.36 116.57L461.95 115.46L463.69 114.9M486.97 100.98L485.81 102.09L484.64 103.76L483.48 105.99L482.9 108.77L482.9 111L483.48 113.79L484.64 116.01L485.81 117.69L486.97 118.8M485.81 102.09L484.64 104.32L484.06 105.99L483.48 108.77L483.48 111L484.06 113.79L484.64 115.46L485.81 117.69M496.28 103.2L494.54 103.76L493.37 104.87L492.21 107.1L491.63 108.77L491.05 111L490.46 114.34L489.88 118.8M496.28 103.2L495.12 103.76L493.96 104.87L492.79 107.1L492.21 108.77L491.63 111L491.05 114.34L490.46 118.8M496.28 103.2L497.45 103.2L498.61 103.76L499.19 104.32L499.19 105.99L498.61 107.1L498.03 107.66L496.28 108.22L493.96 108.22M497.45 103.2L498.61 104.32L498.61 105.99L498.03 107.1L497.45 107.66L496.28 108.22M493.96 108.22L496.28 108.77L497.45 109.89L498.03 111L498.03 112.67L497.45 113.79L496.87 114.34L495.12 114.9L493.96 114.9L492.79 114.34L492.21 113.79L491.63 112.12M493.96 108.22L495.7 108.77L496.87 109.89L497.45 111L497.45 112.67L496.87 113.79L496.28 114.34L495.12 114.9M503.27 108.22L513.74 108.22M503.27 111.56L513.74 111.56M518.4 105.43L518.98 105.99L518.4 106.55L517.82 105.99L517.82 105.43L518.4 104.32L518.98 103.76L520.73 103.2L523.06 103.2L524.8 103.76L525.38 104.32L525.97 105.43L525.97 106.55L525.38 107.66L523.64 108.77L520.73 109.89L519.56 110.44L518.4 111.56L517.82 113.23L517.82 114.9M523.06 103.2L524.22 103.76L524.8 104.32L525.38 105.43L525.38 106.55L524.8 107.66L523.06 108.77L520.73 109.89M517.82 113.79L518.4 113.23L519.56 113.23L522.47 114.34L524.22 114.34L525.38 113.79L525.97 113.23M519.56 113.23L522.47 114.9L524.8 114.9L525.38 114.34L525.97 113.23L525.97 112.12M532.95 103.2L531.2 103.76L530.04 105.43L529.46 108.22L529.46 109.89L530.04 112.67L531.2 114.34L532.95 114.9L534.11 114.9L535.86 114.34L537.02 112.67L537.61 109.89L537.61 108.22L537.02 105.43L535.86 103.76L534.11 103.2L532.95 103.2M532.95 103.2L531.79 103.76L531.2 104.32L530.62 105.43L530.04 108.22L530.04 109.89L530.62 112.67L531.2 113.79L531.79 114.34L532.95 114.9M534.11 114.9L535.28 114.34L535.86 113.79L536.44 112.67L537.02 109.89L537.02 108.22L536.44 105.43L535.86 104.32L535.28 103.76L534.11 103.2M541.1 100.98L542.26 102.09L543.43 103.76L544.59 105.99L545.17 108.77L545.17 111L544.59 113.79L543.43 116.01L542.26 117.69L541.1 118.8M542.26 102.09L543.43 104.32L544.01 105.99L544.59 108.77L544.59 111L544.01 113.79L543.43 115.46L542.26 117.69M559.72 107.1L559.72 114.9M560.3 107.1L560.3 114.9M560.3 110.44L560.89 108.77L562.05 107.66L563.21 107.1L564.96 107.1L565.54 107.66L565.54 108.22L564.96 108.77L564.38 108.22L564.96 107.66M557.98 107.1L560.3 107.1M557.98 114.9L562.05 114.9M569.62 107.1L569.62 113.23L570.2 114.34L571.94 114.9L573.11 114.9L574.85 114.34L576.02 113.23M570.2 107.1L570.2 113.23L570.78 114.34L571.94 114.9M576.02 107.1L576.02 114.9M576.6 107.1L576.6 114.9M567.87 107.1L570.2 107.1M574.27 107.1L576.6 107.1M576.02 114.9L578.35 114.9M582.42 107.1L582.42 114.9M583 107.1L583 114.9M583 108.77L584.17 107.66L585.91 107.1L587.08 107.1L588.82 107.66L589.4 108.77L589.4 114.9M587.08 107.1L588.24 107.66L588.82 108.77L588.82 114.9M580.67 107.1L583 107.1M580.67 114.9L584.75 114.9M587.08 114.9L591.15 114.9"/></g>
</g>
</svg>
</body>
</html>
